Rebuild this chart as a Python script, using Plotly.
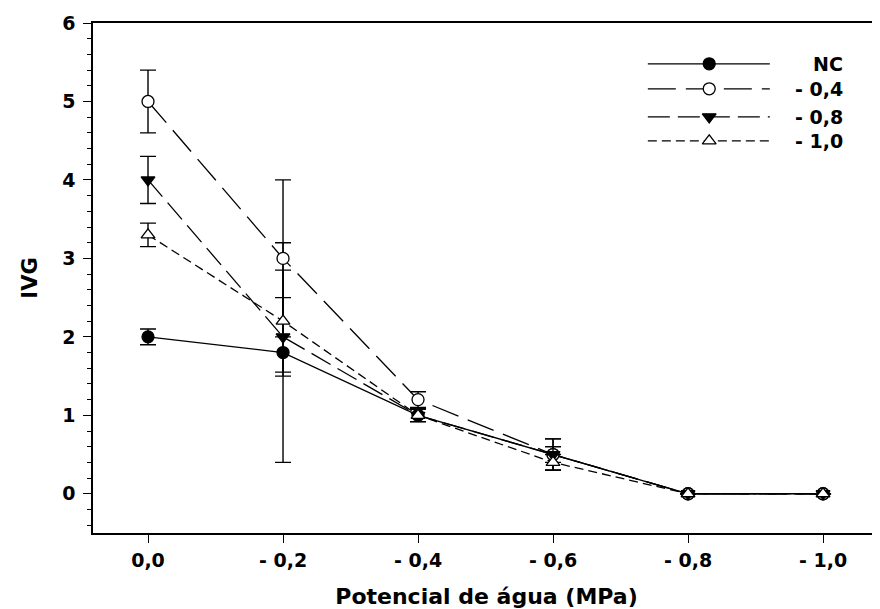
import plotly.graph_objects as go

# Data
potencial = [0.0, -0.2, -0.4, -0.6, -0.8, -1.0]
tick_labels = ["0,0", "- 0,2", "- 0,4", "- 0,6", "- 0,8", "- 1,0"]

series_names = ["NC", "- 0,4", "- 0,8", "- 1,0"]
ivg_nc = [2.0, 1.8, 1.0, 0.5, 0.0, 0.0]
err_nc = [0.1, 1.4, 0.08, 0.2, 0.0, 0.0]
ivg_04 = [5.0, 3.0, 1.2, 0.5, 0.0, 0.0]
err_04 = [0.4, 1.0, 0.1, 0.2, 0.0, 0.0]
ivg_08 = [4.0, 2.0, 1.0, 0.5, 0.0, 0.0]
err_08 = [0.3, 0.5, 0.08, 0.1, 0.0, 0.0]
ivg_10 = [3.3, 2.2, 1.0, 0.4, 0.0, 0.0]
err_10 = [0.15, 0.65, 0.08, 0.1, 0.0, 0.0]

# Styles
font_family = "DejaVu Sans"
styles = [
    dict(symbol="circle", fill="black", dash="solid"),
    dict(symbol="circle", fill="white", dash="28px,10px"),
    dict(symbol="triangle-down", fill="black", dash="22px,8px"),
    dict(symbol="triangle-up", fill="white", dash="9px,5px"),
]
values = [ivg_nc, ivg_04, ivg_08, ivg_10]
errors = [err_nc, err_04, err_08, err_10]

fig = go.Figure()

for name, yv, ev, st in zip(series_names, values, errors, styles):
    fig.add_trace(go.Scatter(
        x=potencial, y=yv, name=name, mode="lines+markers",
        line=dict(color="black", width=1.3, dash=st["dash"]),
        marker=dict(symbol=st["symbol"], size=12, color=st["fill"],
                    line=dict(color="black", width=1.3)),
        error_y=dict(type="data", array=ev, color="black", thickness=1.4, width=8),
        showlegend=False,
    ))

# Hand-drawn legend key (line sample with marker in the middle), on an overlay axis
key_x0, key_xm, key_x1 = 0.705, 0.783, 0.860
label_x = 0.955
row_y = [0.920, 0.871, 0.816, 0.769]
for name, st, ry in zip(series_names, styles, row_y):
    fig.add_trace(go.Scatter(
        x=[key_x0, key_x1], y=[ry, ry], mode="lines", xaxis="x2", yaxis="y2",
        line=dict(color="black", width=1.3, dash=st["dash"]),
        showlegend=False, hoverinfo="skip",
    ))
    fig.add_trace(go.Scatter(
        x=[key_xm], y=[ry], mode="markers", xaxis="x2", yaxis="y2",
        marker=dict(symbol=st["symbol"], size=12, color=st["fill"],
                    line=dict(color="black", width=1.3)),
        showlegend=False, hoverinfo="skip",
    ))
    fig.add_annotation(
        x=label_x, y=ry, xref="paper", yref="paper", text=name, showarrow=False,
        xanchor="right", yanchor="middle",
        font=dict(family=font_family, size=19, color="black", weight="bold"),
    )

# page body adds an 8px offset, so the figure is a bit smaller than the window
fig.update_layout(
    width=872, height=601,
    margin=dict(l=85, r=0, t=15, b=76),
    plot_bgcolor="white", paper_bgcolor="white",
    font=dict(family=font_family, size=19, color="black", weight="bold"),
    xaxis=dict(
        range=[0.0815, -1.0844], automargin=False,
        tickmode="array", tickvals=potencial, ticktext=tick_labels,
        ticks="outside", ticklen=8, tickwidth=1.3, tickcolor="black",
        ticklabelstandoff=1,
        showline=True, linecolor="black", linewidth=1.5, mirror=True,
        showgrid=False, zeroline=False,
        tickfont=dict(family=font_family, size=19, weight="bold"),
        title=dict(text="Potencial de água (MPa)", standoff=19,
                   font=dict(family=font_family, size=22, weight="bold")),
    ),
    yaxis=dict(
        range=[-0.5, 6], automargin=False,
        tickmode="linear", tick0=0, dtick=1,
        ticks="outside", ticklen=8, tickwidth=1.3, tickcolor="black",
        ticklabelstandoff=4,
        minor=dict(dtick=0.2, tick0=0, ticks="outside", ticklen=4,
                   tickwidth=1.2, tickcolor="black", showgrid=False),
        showline=True, linecolor="black", linewidth=1.5,
        showgrid=False, zeroline=False,
        tickfont=dict(family=font_family, size=19, weight="bold"),
        title=dict(text="IVG", standoff=19,
                   font=dict(family=font_family, size=21, weight="bold")),
    ),
    xaxis2=dict(overlaying="x", range=[0, 1], visible=False, fixedrange=True),
    yaxis2=dict(overlaying="y", range=[0, 1], visible=False, fixedrange=True),
)

fig.write_html("out.html")
